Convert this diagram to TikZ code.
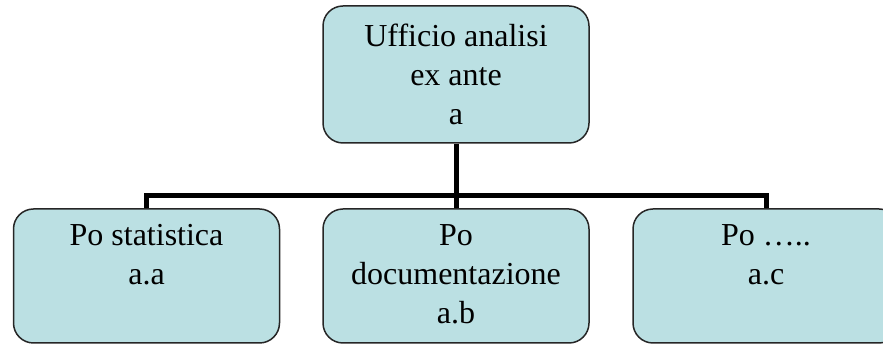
\documentclass[tikz,border=0pt]{standalone}
\usepackage{fontspec}
\setmainfont{Liberation Serif}
\usetikzlibrary{calc}
\definecolor{boxfill}{RGB}{187,224,227}
\tikzset{
	unit/.style={draw=black!85,line width=1.5pt,fill=boxfill,rounded corners=20pt,minimum width=266pt,minimum height=134pt,inner sep=0pt},
	lbl/.style={align=center,inner sep=0pt,font=\fontsize{32}{39}\selectfont},
	bus/.style={line width=5pt,black}
}
\newcommand{\makeunit}[3]{
	\node (#1) at (#2,68) [unit] {};
	\node (#1T) at ($(#1.north) + (0,-16)$) [lbl,anchor=north] {#3};
}

\begin{document}
\begin{tikzpicture}[x=1pt,y=1pt]
		\useasboundingbox (0,0) rectangle (883,344);
		\clip (0,0) rectangle (883,344);
		\node (top) at (456,269.5) [unit,lbl,minimum height=137pt] {Ufficio analisi\\ex ante\\a};
		\makeunit{stat}{146.5}{Po statistica\\a.a}
		\makeunit{doc}{456}{Po\\documentazione\\a.b}
		\makeunit{other}{766}{Po …..\\a.c}
		\coordinate (hub) at ($(top.south) + (0,-52)$);
		\draw[bus] (top.south) -- (hub);
		\draw[bus] (hub) -| (stat.north);
		\draw[bus] (hub) -| (other.north);
		\draw[bus] (hub) -- (doc.north);
	\end{tikzpicture}
\end{document}
